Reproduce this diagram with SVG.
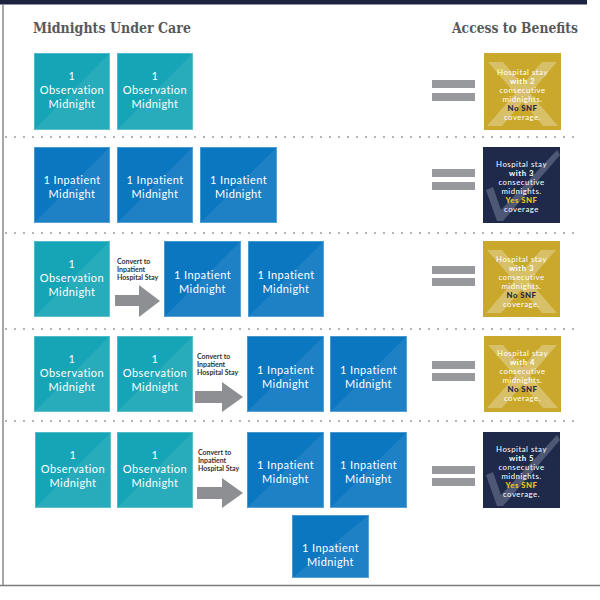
<svg xmlns="http://www.w3.org/2000/svg" width="600" height="600" viewBox="0 0 600 600">
<defs>
<style>
.obs{fill:#16a5b7}
.inp{fill:#0b77c1}
.sheen{fill:#ffffff;fill-opacity:0.08}
.edge{fill:none;stroke:#ffffff;stroke-opacity:0.25;stroke-width:1}
.bt{font-family:Lato,"Open Sans",sans-serif;font-size:11px;letter-spacing:0.45px;fill:#ffffff;text-anchor:middle}
.title{font-family:"DejaVu Serif",serif;font-weight:bold;font-size:14px;fill:#58595b}
.conv{font-family:Lato,"Liberation Sans",sans-serif;font-weight:bold;font-size:7px;fill:#333333}
.arrow{fill:#8e8f93}
.eq{fill:#98999d}
.gold{fill:#c9a82c}
.navy{fill:#1f2a4a}
.xmark{fill:#d7c067}
.check{fill:#4e5774}
.ben{font-family:Lato,"Open Sans",sans-serif;font-size:7.8px;letter-spacing:0.5px;fill:#ffffff;text-anchor:middle}
.bb{font-weight:bold}
.no{fill:#1f2a4a;font-weight:900}
.yes{fill:#f0c419;font-weight:900}
.sep{stroke:#a3a3a3;stroke-width:2.2;stroke-linecap:round;stroke-dasharray:0 9}
</style>
</defs>
<rect x="0" y="0" width="600" height="600" fill="#ffffff"/>
<rect x="0" y="0" width="587" height="4.5" fill="#1c2340"/>
<line x1="3" y1="4" x2="3" y2="585.5" stroke="#8a8a8a" stroke-width="1.5"/>
<line x1="0" y1="585.5" x2="600" y2="585.5" stroke="#7a7a7a" stroke-width="1.5"/>

<g id="headers">
<text class="title" x="33" y="33" textLength="158" lengthAdjust="spacingAndGlyphs">Midnights Under Care</text>
<text class="title" x="578" y="33" text-anchor="end" textLength="126" lengthAdjust="spacingAndGlyphs">Access to Benefits</text>
</g>

<g id="separators">
<line class="sep" x1="6" y1="137" x2="578" y2="137"/>
<line class="sep" x1="6" y1="233" x2="578" y2="233"/>
<line class="sep" x1="6" y1="329" x2="578" y2="329"/>
<line class="sep" x1="6" y1="421" x2="578" y2="421"/>
</g>

<!-- Row 1 -->
<g id="r1-obs1"><rect class="obs" x="34" y="53" width="76" height="77"/><polygon class="sheen" points="110,53 110,130 34,130"/><rect class="edge" x="34.5" y="53.5" width="75" height="76"/>
<text class="bt" x="72" y="80">1</text><text class="bt" x="72" y="94">Observation</text><text class="bt" x="72" y="108">Midnight</text></g>
<g id="r1-obs2"><rect class="obs" x="117" y="53" width="76" height="77"/><polygon class="sheen" points="193,53 193,130 117,130"/><rect class="edge" x="117.5" y="53.5" width="75" height="76"/>
<text class="bt" x="155" y="80">1</text><text class="bt" x="155" y="94">Observation</text><text class="bt" x="155" y="108">Midnight</text></g>

<!-- Row 2 -->
<g id="r2-inp1"><rect class="inp" x="34" y="147" width="76" height="76"/><polygon class="sheen" points="110,147 110,223 34,223"/><rect class="edge" x="34.5" y="147.5" width="75" height="75"/>
<text class="bt" x="72" y="184">1 Inpatient</text><text class="bt" x="72" y="198">Midnight</text></g>
<g id="r2-inp2"><rect class="inp" x="117" y="147" width="76" height="76"/><polygon class="sheen" points="193,147 193,223 117,223"/><rect class="edge" x="117.5" y="147.5" width="75" height="75"/>
<text class="bt" x="155" y="184">1 Inpatient</text><text class="bt" x="155" y="198">Midnight</text></g>
<g id="r2-inp3"><rect class="inp" x="200" y="147" width="77" height="76"/><polygon class="sheen" points="277,147 277,223 200,223"/><rect class="edge" x="200.5" y="147.5" width="76" height="75"/>
<text class="bt" x="238.5" y="184">1 Inpatient</text><text class="bt" x="238.5" y="198">Midnight</text></g>

<!-- Row 3 -->
<g id="r3-obs1"><rect class="obs" x="34" y="241" width="76" height="76"/><polygon class="sheen" points="110,241 110,317 34,317"/><rect class="edge" x="34.5" y="241.5" width="75" height="75"/>
<text class="bt" x="72" y="268">1</text><text class="bt" x="72" y="282">Observation</text><text class="bt" x="72" y="296">Midnight</text></g>
<g id="r3-inp1"><rect class="inp" x="164" y="241" width="77" height="76"/><polygon class="sheen" points="241,241 241,317 164,317"/><rect class="edge" x="164.5" y="241.5" width="76" height="75"/>
<text class="bt" x="202.5" y="279">1 Inpatient</text><text class="bt" x="202.5" y="293">Midnight</text></g>
<g id="r3-inp2"><rect class="inp" x="248" y="241" width="76" height="76"/><polygon class="sheen" points="324,241 324,317 248,317"/><rect class="edge" x="248.5" y="241.5" width="75" height="75"/>
<text class="bt" x="286" y="279">1 Inpatient</text><text class="bt" x="286" y="293">Midnight</text></g>

<!-- Row 4 -->
<g id="r4-obs1"><rect class="obs" x="34" y="336" width="76" height="76"/><polygon class="sheen" points="110,336 110,412 34,412"/><rect class="edge" x="34.5" y="336.5" width="75" height="75"/>
<text class="bt" x="72" y="363">1</text><text class="bt" x="72" y="377">Observation</text><text class="bt" x="72" y="391">Midnight</text></g>
<g id="r4-obs2"><rect class="obs" x="117" y="336" width="76" height="76"/><polygon class="sheen" points="193,336 193,412 117,412"/><rect class="edge" x="117.5" y="336.5" width="75" height="75"/>
<text class="bt" x="155" y="363">1</text><text class="bt" x="155" y="377">Observation</text><text class="bt" x="155" y="391">Midnight</text></g>
<g id="r4-inp1"><rect class="inp" x="247" y="336" width="77" height="76"/><polygon class="sheen" points="324,336 324,412 247,412"/><rect class="edge" x="247.5" y="336.5" width="76" height="75"/>
<text class="bt" x="285.5" y="374">1 Inpatient</text><text class="bt" x="285.5" y="388">Midnight</text></g>
<g id="r4-inp2"><rect class="inp" x="330" y="336" width="77" height="76"/><polygon class="sheen" points="407,336 407,412 330,412"/><rect class="edge" x="330.5" y="336.5" width="76" height="75"/>
<text class="bt" x="368.5" y="374">1 Inpatient</text><text class="bt" x="368.5" y="388">Midnight</text></g>

<!-- Row 5 -->
<g id="r5-obs1"><rect class="obs" x="35" y="432" width="76" height="76"/><polygon class="sheen" points="111,432 111,508 35,508"/><rect class="edge" x="35.5" y="432.5" width="75" height="75"/>
<text class="bt" x="73" y="459">1</text><text class="bt" x="73" y="473">Observation</text><text class="bt" x="73" y="487">Midnight</text></g>
<g id="r5-obs2"><rect class="obs" x="117" y="432" width="76" height="76"/><polygon class="sheen" points="193,432 193,508 117,508"/><rect class="edge" x="117.5" y="432.5" width="75" height="75"/>
<text class="bt" x="155" y="459">1</text><text class="bt" x="155" y="473">Observation</text><text class="bt" x="155" y="487">Midnight</text></g>
<g id="r5-inp1"><rect class="inp" x="247" y="432" width="77" height="76"/><polygon class="sheen" points="324,432 324,508 247,508"/><rect class="edge" x="247.5" y="432.5" width="76" height="75"/>
<text class="bt" x="285.5" y="469">1 Inpatient</text><text class="bt" x="285.5" y="483">Midnight</text></g>
<g id="r5-inp2"><rect class="inp" x="330" y="432" width="77" height="76"/><polygon class="sheen" points="407,432 407,508 330,508"/><rect class="edge" x="330.5" y="432.5" width="76" height="75"/>
<text class="bt" x="368.5" y="469">1 Inpatient</text><text class="bt" x="368.5" y="483">Midnight</text></g>
<g id="r5-inp3"><rect class="inp" x="292" y="515" width="77" height="63"/><polygon class="sheen" points="369,515 369,578 292,578"/><rect class="edge" x="292.5" y="515.5" width="76" height="62"/>
<text class="bt" x="330.5" y="552">1 Inpatient</text><text class="bt" x="330.5" y="566">Midnight</text></g>

<!-- Conversion arrows -->
<g id="connectors">
<g id="conv3">
<text class="conv" x="117" y="264">Convert to</text><text class="conv" x="117" y="272">Inpatient</text><text class="conv" x="117" y="280">Hospital Stay</text>
<polygon class="arrow" points="115,295 139,295 139,285 160,301 139,317 139,306 115,306"/>
</g>
<g id="conv4">
<text class="conv" x="197" y="359">Convert to</text><text class="conv" x="197" y="367">Inpatient</text><text class="conv" x="197" y="375">Hospital Stay</text>
<polygon class="arrow" points="195,391 222,391 222,382 243,397 222,412 222,403 195,403"/>
</g>
<g id="conv5">
<text class="conv" x="198" y="455">Convert to</text><text class="conv" x="198" y="463">Inpatient</text><text class="conv" x="198" y="471">Hospital Stay</text>
<polygon class="arrow" points="197,487 222,487 222,478 243,493 222,508 222,499 197,499"/>
</g>
</g>

<!-- Equals signs -->
<g id="equals">
<rect class="eq" x="432" y="80" width="43" height="8"/><rect class="eq" x="432" y="93" width="43" height="8"/>
<rect class="eq" x="432" y="169" width="43" height="8"/><rect class="eq" x="432" y="182" width="43" height="8"/>
<rect class="eq" x="432" y="266" width="43" height="8"/><rect class="eq" x="432" y="278" width="43" height="8"/>
<rect class="eq" x="432" y="361" width="43" height="8"/><rect class="eq" x="432" y="373" width="43" height="8"/>
<rect class="eq" x="432" y="466" width="43" height="8"/><rect class="eq" x="432" y="478" width="43" height="8"/>
</g>

<!-- Benefit boxes -->
<g id="ben1"><rect class="gold" x="484" y="53" width="77" height="77"/>
<polygon class="xmark" points="488,62 503,62 558,126 543,126"/><polygon class="xmark" points="542,62 557,62 502,126 487,126"/>
<text class="ben" x="522.5" y="75">Hospital stay</text><text class="ben bb" x="522.5" y="84">with 2</text><text class="ben" x="522.5" y="93">consecutive</text><text class="ben" x="522.5" y="102">midnights.</text><text class="ben no" x="522.5" y="111">No SNF</text><text class="ben" x="522.5" y="120">coverage.</text></g>

<g id="ben2"><rect class="navy" x="483" y="147" width="77" height="76"/>
<polygon class="check" points="486,190 493,187 501,210 557,150 560,155 503,221 497,221"/>
<text class="ben" x="521.5" y="167">Hospital stay</text><text class="ben bb" x="521.5" y="176">with 3</text><text class="ben" x="521.5" y="185">consecutive</text><text class="ben" x="521.5" y="194">midnights.</text><text class="ben yes" x="521.5" y="203">Yes SNF</text><text class="ben" x="521.5" y="212">coverage</text></g>

<g id="ben3"><rect class="gold" x="483" y="241" width="77" height="76"/>
<polygon class="xmark" points="487,250 502,250 557,313 542,313"/><polygon class="xmark" points="541,250 556,250 501,313 486,313"/>
<text class="ben" x="521.5" y="262">Hospital stay</text><text class="ben bb" x="521.5" y="271">with 3</text><text class="ben" x="521.5" y="280">consecutive</text><text class="ben" x="521.5" y="289">midnights.</text><text class="ben no" x="521.5" y="298">No SNF</text><text class="ben" x="521.5" y="307">coverage.</text></g>

<g id="ben4"><rect class="gold" x="484" y="336" width="77" height="76"/>
<polygon class="xmark" points="488,345 503,345 558,408 543,408"/><polygon class="xmark" points="542,345 557,345 502,408 487,408"/>
<text class="ben" x="522.5" y="356">Hospital stay</text><text class="ben bb" x="522.5" y="365">with 4</text><text class="ben" x="522.5" y="374">consecutive</text><text class="ben" x="522.5" y="383">midnights.</text><text class="ben no" x="522.5" y="392">No SNF</text><text class="ben" x="522.5" y="401">coverage.</text></g>

<g id="ben5"><rect class="navy" x="483" y="432" width="77" height="76"/>
<polygon class="check" points="486,475 493,472 501,495 557,435 560,440 503,506 497,506"/>
<text class="ben" x="521.5" y="452">Hospital stay</text><text class="ben bb" x="521.5" y="461">with 5</text><text class="ben" x="521.5" y="470">consecutive</text><text class="ben" x="521.5" y="479">midnights.</text><text class="ben yes" x="521.5" y="488">Yes SNF</text><text class="ben" x="521.5" y="497">coverage.</text></g>
</svg>
